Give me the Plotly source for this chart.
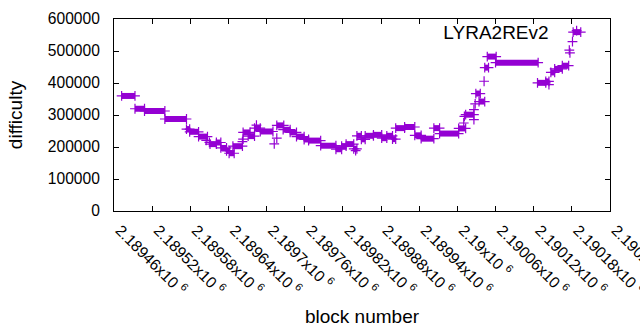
import plotly.graph_objects as go

# runs of (nearly) constant difficulty: first block, last block, difficulty
run_start = [2189472, 2189493, 2189508, 2189540, 2189574, 2189579, 2189593, 2189611, 2189621, 2189628,
             2189637, 2189641, 2189647, 2189663, 2189671, 2189681, 2189690, 2189716, 2189726, 2189737,
             2189747, 2189759, 2189766, 2189785, 2189809, 2189818, 2189825, 2189837, 2189842, 2189849,
             2189855, 2189868, 2189881, 2189889, 2189898, 2189903, 2189917, 2189933, 2189943, 2189963,
             2189972, 2190002, 2190013, 2190029, 2190034, 2190043, 2190047, 2190060, 2190126, 2190139,
             2190147, 2190153, 2190165, 2190182]
run_end = [2189493, 2189508, 2189540, 2189574, 2189579, 2189593, 2189607, 2189621, 2189628, 2189637,
           2189642, 2189649, 2189662, 2189674, 2189681, 2189690, 2189710, 2189727, 2189737, 2189747,
           2189759, 2189766, 2189785, 2189809, 2189818, 2189825, 2189837, 2189842, 2189849, 2189855,
           2189868, 2189881, 2189889, 2189898, 2189903, 2189917, 2189933, 2189943, 2189963, 2189972,
           2190002, 2190013, 2190026, 2190036, 2190043, 2190049, 2190061, 2190127, 2190139, 2190144,
           2190153, 2190165, 2190175, 2190194]
run_value = [359500, 319500, 312500, 287500, 256000, 247500, 232500, 209000, 214000, 197000,
             188000, 180500, 202500, 245500, 234000, 259000, 248500, 267500, 254000, 245500,
             232500, 223500, 220000, 204000, 193000, 202500, 209000, 194000, 235000, 224000,
             235000, 238000, 227500, 235000, 224500, 259000, 262500, 236500, 226000, 259000,
             242000, 258000, 301000, 367000, 342000, 448000, 482500, 463500, 400500, 405000,
             433000, 444000, 454000, 559000]

# isolated blocks
single_block = [2189605, 2189610, 2189662, 2189663, 2189684, 2189712, 2189716, 2189840,
                2190010, 2190011, 2190026, 2190026, 2190028, 2190042, 2190144,
                2190176, 2190177, 2190181]
single_value = [221000, 214500, 217000, 224500, 268500, 210000, 227500, 188500,
                275000, 296000, 285500, 316500, 334500, 405500, 395000,
                503000, 494000, 529000]

tick_vals = [2189460, 2189520, 2189580, 2189640, 2189700, 2189760, 2189820,
             2189880, 2189940, 2190000, 2190060, 2190120, 2190180, 2190240]
tick_labels = ["2.18946x10 <sup>6</sup>", "2.18952x10 <sup>6</sup>", "2.18958x10 <sup>6</sup>",
               "2.18964x10 <sup>6</sup>", "2.1897x10 <sup>6</sup>", "2.18976x10 <sup>6</sup>",
               "2.18982x10 <sup>6</sup>", "2.18988x10 <sup>6</sup>", "2.18994x10 <sup>6</sup>",
               "2.19x10 <sup>6</sup>", "2.19006x10 <sup>6</sup>", "2.19012x10 <sup>6</sup>",
               "2.19018x10 <sup>6</sup>", "2.19024x10 <sup>6</sup>"]

COLOR = "#9400D3"

seg_x, seg_y = [], []
for s, e, v in zip(run_start, run_end, run_value):
    seg_x += [s, e, None]
    seg_y += [v, v, None]

fig = go.Figure()
fig.add_trace(go.Scatter(x=seg_x, y=seg_y, mode="lines", showlegend=False,
                         line=dict(color=COLOR, width=6), hoverinfo="skip"))
fig.add_trace(go.Scatter(x=run_start + run_end + single_block,
                         y=run_value + run_value + single_value,
                         mode="markers", name=" ",
                         marker=dict(symbol="cross-thin", size=7, color=COLOR,
                                     line=dict(color=COLOR, width=1.2))))

axis_common = dict(showline=True, linecolor="black", linewidth=1, mirror="allticks",
                   ticks="inside", ticklen=5, tickcolor="black", showgrid=False,
                   zeroline=False)

fig.update_layout(
    width=640, height=330,
    margin=dict(l=114, r=30, t=19, b=119, autoexpand=False),
    plot_bgcolor="white", paper_bgcolor="white",
    font=dict(family="Liberation Sans, Arial, sans-serif", size=15.6, color="black"),
    showlegend=True,
    legend=dict(orientation="h", title=dict(text="LYRA2REv2", side="left"),
                x=0.66, y=0.935, xanchor="left", yanchor="middle",
                bgcolor="rgba(0,0,0,0)", font=dict(size=15.6)),
    xaxis=dict(range=[2189460, 2190240], tickvals=tick_vals, ticktext=tick_labels,
               tickangle=45, ticklabelshift=6, ticklabelstandoff=3,
               ticklabeloverflow="allow",
               title=dict(text="block number", standoff=12),
               automargin=False, **axis_common),
    yaxis=dict(range=[0, 600000], dtick=100000, tickformat="d",
               ticklabelstandoff=10,
               title=dict(text="difficulty", standoff=20), automargin=False,
               **axis_common),
)

fig.write_html("out.html", config={"displayModeBar": False},
               post_script="document.body.style.margin='0';")
